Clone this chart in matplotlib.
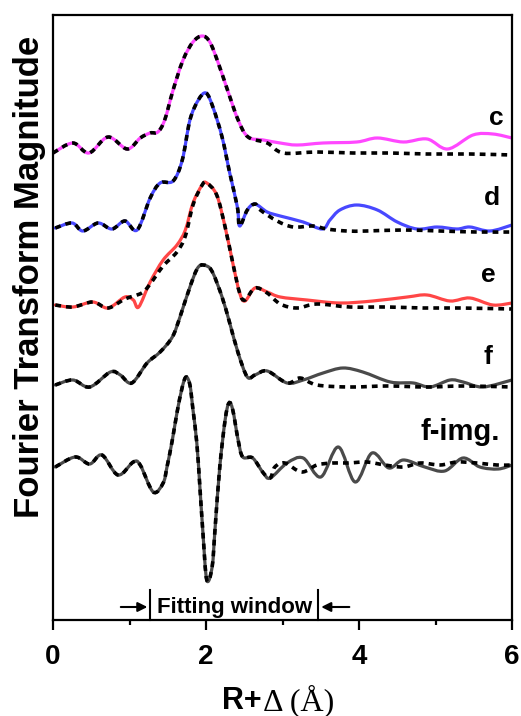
import matplotlib
matplotlib.use("Agg")
import matplotlib.pyplot as plt
from matplotlib.path import Path
from matplotlib.patches import PathPatch
import numpy as np

# ---------------- data (R in Å, magnitude relative to each curve's baseline) -------------
labels = ["c", "d", "e", "f", "f-img."]
offsets = [4.67, 3.90, 3.13, 2.35, 1.55]
colors = ["#FF48FF", "#4848FF", "#FF4646", "#4A4A4A", "#4A4A4A"]

c_R = [0.00, 0.26, 0.47, 0.72, 0.97, 1.14, 1.27, 1.37, 1.46, 1.57, 1.70, 1.83, 1.95, 2.05, 2.16,
       2.29, 2.42, 2.55, 2.75, 2.97, 3.19, 3.53, 3.97, 4.24, 4.58, 4.89, 5.16, 5.49, 5.75, 6.00]
c_exp = [0.00, 0.10, 0.00, 0.16, 0.04, 0.15, 0.20, 0.21, 0.33, 0.63, 0.93, 1.11, 1.17, 1.11, 0.90,
         0.61, 0.33, 0.16, 0.13, 0.10, 0.08, 0.10, 0.11, 0.15, 0.11, 0.14, 0.04, 0.18, 0.19, 0.15]
c_fit_R = [0.00, 0.26, 0.47, 0.72, 0.97, 1.14, 1.27, 1.37, 1.46, 1.57, 1.70, 1.83, 1.95, 2.05, 2.16,
           2.29, 2.42, 2.55, 2.80, 3.01, 3.45, 3.92, 4.41, 4.89, 5.45, 6.00]
c_fit = [0.00, 0.10, 0.00, 0.16, 0.04, 0.15, 0.20, 0.21, 0.33, 0.63, 0.93, 1.11, 1.17, 1.11, 0.90,
         0.61, 0.33, 0.16, 0.10, 0.00, 0.01, 0.00, 0.00, -0.01, -0.01, -0.02]

d_R = [0.03, 0.25, 0.39, 0.59, 0.77, 0.94, 1.10, 1.27, 1.40, 1.57, 1.69, 1.79, 1.90, 2.00, 2.09,
       2.21, 2.31, 2.41, 2.44, 2.54, 2.64, 2.80, 2.97, 3.27, 3.52, 3.62, 3.75, 3.97, 4.24, 4.50,
       4.76, 5.02, 5.28, 5.45, 5.71, 6.00]
d_exp = [0.02, 0.07, -0.01, 0.07, 0.01, 0.09, 0.00, 0.32, 0.47, 0.49, 0.70, 1.10, 1.30, 1.37, 1.23,
         0.93, 0.57, 0.23, 0.04, 0.20, 0.26, 0.18, 0.14, 0.08, 0.01, 0.10, 0.20, 0.25, 0.20, 0.08,
         0.01, 0.03, 0.01, 0.03, -0.01, 0.05]
d_fit_R = [0.03, 0.25, 0.39, 0.59, 0.77, 0.94, 1.10, 1.27, 1.40, 1.57, 1.69, 1.79, 1.90, 2.00, 2.09,
           2.21, 2.31, 2.41, 2.44, 2.54, 2.64, 2.71, 2.93, 3.14, 3.40, 3.58, 3.84, 4.10, 4.58, 5.06,
           5.54, 6.00]
d_fit = [0.02, 0.07, -0.01, 0.07, 0.01, 0.09, 0.00, 0.32, 0.47, 0.49, 0.70, 1.10, 1.30, 1.37, 1.23,
         0.93, 0.57, 0.23, 0.04, 0.20, 0.26, 0.20, 0.09, 0.03, 0.04, 0.01, -0.01, -0.01, 0.00, -0.01,
         -0.02, -0.02]

e_R = [0.03, 0.26, 0.52, 0.72, 0.94, 1.05, 1.12, 1.27, 1.44, 1.62, 1.73, 1.83, 1.95, 2.01, 2.14,
       2.25, 2.35, 2.44, 2.51, 2.64, 2.80, 2.97, 3.32, 3.75, 4.18, 4.63, 4.89, 5.19, 5.45, 5.75, 6.00]
e_exp = [0.02, 0.00, 0.05, -0.01, 0.10, 0.07, 0.00, 0.25, 0.47, 0.62, 0.77, 1.04, 1.22, 1.24, 1.12,
         0.80, 0.44, 0.14, 0.06, 0.19, 0.15, 0.10, 0.07, 0.04, 0.06, 0.10, 0.12, 0.06, 0.09, 0.02, 0.04]
e_fit_R = [0.03, 0.26, 0.52, 0.72, 0.94, 1.16, 1.27, 1.44, 1.62, 1.73, 1.83, 1.95, 2.01, 2.14,
           2.25, 2.35, 2.44, 2.51, 2.64, 2.80, 2.97, 3.19, 3.45, 3.88, 4.37, 4.84, 5.32, 6.00]
e_fit = [0.02, 0.00, 0.05, -0.01, 0.08, 0.14, 0.23, 0.41, 0.55, 0.71, 1.02, 1.22, 1.24, 1.12,
         0.80, 0.44, 0.14, 0.07, 0.19, 0.14, 0.03, -0.01, 0.03, 0.00, 0.00, -0.01, -0.01, -0.02]

f_R = [0.03, 0.26, 0.48, 0.75, 0.88, 1.03, 1.23, 1.40, 1.56, 1.66, 1.79, 1.90, 2.01, 2.09, 2.21,
       2.31, 2.42, 2.54, 2.64, 2.80, 3.06, 3.27, 3.53, 3.79, 4.05, 4.41, 4.71, 4.93, 5.19, 5.36,
       5.62, 6.00]
f_exp = [0.00, 0.05, -0.02, 0.13, 0.10, 0.02, 0.22, 0.33, 0.48, 0.68, 0.98, 1.18, 1.19, 1.12, 0.88,
         0.62, 0.32, 0.08, 0.10, 0.14, 0.02, 0.05, 0.12, 0.17, 0.13, 0.03, 0.02, -0.02, 0.05, 0.03,
         -0.02, 0.05]
f_fit_R = [0.03, 0.26, 0.48, 0.75, 0.88, 1.03, 1.23, 1.40, 1.56, 1.66, 1.79, 1.90, 2.01, 2.09, 2.21,
           2.31, 2.42, 2.54, 2.64, 2.80, 3.06, 3.23, 3.45, 3.88, 4.37, 4.89, 5.36, 6.00]
f_fit = [0.00, 0.05, -0.02, 0.13, 0.10, 0.02, 0.22, 0.33, 0.48, 0.68, 0.98, 1.18, 1.19, 1.12, 0.88,
         0.62, 0.32, 0.08, 0.10, 0.14, 0.02, 0.07, 0.00, -0.02, -0.01, -0.02, -0.01, -0.02]

fi_R = [0.03, 0.29, 0.48, 0.64, 0.85, 1.05, 1.14, 1.31, 1.44, 1.49, 1.56, 1.62, 1.69, 1.74, 1.79,
        1.83, 1.88, 1.92, 1.96, 2.01, 2.08, 2.12, 2.18, 2.25, 2.30, 2.35, 2.42, 2.48, 2.61, 2.75,
        2.84, 3.06, 3.27, 3.50, 3.73, 3.95, 4.17, 4.39, 4.58, 4.86, 5.12, 5.36, 5.58, 5.82, 6.00]
fi_exp = [-0.02, 0.08, 0.01, 0.10, -0.10, 0.03, 0.00, -0.27, -0.18, -0.02, 0.25, 0.52, 0.78, 0.88,
          0.80, 0.55, 0.22, -0.22, -0.68, -1.15, -1.02, -0.62, -0.02, 0.45, 0.62, 0.55, 0.25, 0.08,
          0.07, -0.08, -0.13, 0.02, 0.07, -0.12, 0.18, -0.17, 0.12, -0.03, 0.05, -0.02, -0.06, 0.07,
          -0.02, -0.04, 0.00]
fi_fit_R = [0.03, 0.29, 0.48, 0.64, 0.85, 1.05, 1.14, 1.31, 1.44, 1.49, 1.56, 1.62, 1.69, 1.74, 1.79,
            1.83, 1.88, 1.92, 1.96, 2.01, 2.08, 2.12, 2.18, 2.25, 2.30, 2.35, 2.42, 2.48, 2.61, 2.75,
            2.84, 2.90, 3.03, 3.25, 3.45, 3.65, 3.86, 4.10, 4.34, 4.58, 4.80, 5.06, 5.28, 5.54, 5.80,
            6.00]
fi_fit = [-0.02, 0.08, 0.01, 0.10, -0.10, 0.03, 0.00, -0.27, -0.18, -0.02, 0.25, 0.52, 0.78, 0.88,
          0.80, 0.55, 0.22, -0.22, -0.68, -1.15, -1.02, -0.62, -0.02, 0.45, 0.62, 0.55, 0.25, 0.08,
          0.07, -0.08, -0.13, -0.02, 0.02, -0.07, 0.00, 0.02, 0.02, 0.03, 0.00, -0.02, 0.02, 0.00,
          0.03, 0.02, 0.00, 0.00]

exp_R = [c_R, d_R, e_R, f_R, fi_R]
exp_vals = [c_exp, d_exp, e_exp, f_exp, fi_exp]
fit_R = [c_fit_R, d_fit_R, e_fit_R, f_fit_R, fi_fit_R]
fit_vals = [c_fit, d_fit, e_fit, f_fit, fi_fit]

window = [1.27, 3.47]
xticks = [0, 2, 4, 6]


def smooth_path(xs, ys):
    """Curve through the read points drawn as cubic Bezier segments (Catmull-Rom tangents)."""
    pts = np.column_stack([xs, ys]).astype(float)
    n = len(pts)
    verts = [pts[0]]
    codes = [Path.MOVETO]
    for i in range(n - 1):
        p0 = pts[i - 1] if i > 0 else pts[i]
        p1 = pts[i]
        p2 = pts[i + 1]
        p3 = pts[i + 2] if i + 2 < n else pts[i + 1]
        verts += [p1 + (p2 - p0) / 6.0, p2 - (p3 - p1) / 6.0, p2]
        codes += [Path.CURVE4] * 3
    return Path(verts, codes)


# ---------------- figure -------------
fig = plt.figure(figsize=(5.21, 7.16), dpi=100)
ax = fig.add_axes([53 / 521, 1 - 620 / 716, (512 - 53) / 521, (620 - 15) / 716])

sans = ["Liberation Sans", "DejaVu Sans"]
serif = ["Liberation Serif", "DejaVu Serif"]

for Rs, vals, off, col in zip(exp_R, exp_vals, offsets, colors):
    ax.add_patch(PathPatch(smooth_path(Rs, np.array(vals) + off), fill=False, edgecolor=col,
                           lw=2.3, joinstyle="round", capstyle="round", zorder=2))
for Rs, vals, off in zip(fit_R, fit_vals, offsets):
    ax.add_patch(PathPatch(smooth_path(Rs, np.array(vals) + off), fill=False, edgecolor="black",
                           lw=2.6, linestyle=(0, (1.6, 1.4)), zorder=3))

label_pos = [(5.79, 5.02), (5.74, 4.22), (5.69, 3.45), (5.69, 2.63), (5.33, 1.88)]
label_size = [19, 19, 19, 19, 21]
for lab, (lx, ly), fs in zip(labels, label_pos, label_size):
    ax.text(lx, ly, lab, ha="center", va="center", fontsize=fs, fontweight="bold",
            family=sans)

# fitting window annotation
for wx in window:
    ax.plot([wx, wx], [0.0, 0.30], color="black", lw=1.5, zorder=4, clip_on=False)
ax.text((window[0] + window[1]) / 2, 0.125, "Fitting window", ha="center", va="center",
        fontsize=16, fontweight="bold", family=sans)
ax.annotate("", xy=(window[0], 0.13), xytext=(0.85, 0.13),
            arrowprops=dict(arrowstyle="-|>", color="black", lw=1.5, mutation_scale=14))
ax.annotate("", xy=(window[1], 0.13), xytext=(3.91, 0.13),
            arrowprops=dict(arrowstyle="-|>", color="black", lw=1.5, mutation_scale=14))

ax.set_xlim(0, 6)
ax.set_ylim(0, 6.05)
ax.set_xticks(xticks)
ax.set_xticks([1, 3, 5], minor=True)
ax.set_yticks([])
ax.tick_params(axis="x", which="major", direction="out", length=7, width=1.6, pad=10,
               labelsize=20)
ax.tick_params(axis="x", which="minor", direction="out", length=3.5, width=1.6)
for lab in ax.get_xticklabels():
    lab.set_fontweight("bold")
    lab.set_family(sans)
for sp in ax.spines.values():
    sp.set_linewidth(1.6)

# axis labels
fig.text(262 / 521, 1 - 701 / 716, "R+", ha="right", va="center", fontsize=22,
         fontweight="bold", family=sans)
fig.text(263 / 521, 1 - 701 / 716, "Δ (Å)", ha="left", va="center", fontsize=23,
         family=serif)
fig.text(30 / 521, 1 - 277 / 716, "Fourier Transform Magnitude", ha="center", va="center",
         rotation=90, fontsize=25, fontweight="bold", family=sans)

fig.savefig("out.png", dpi=100)
